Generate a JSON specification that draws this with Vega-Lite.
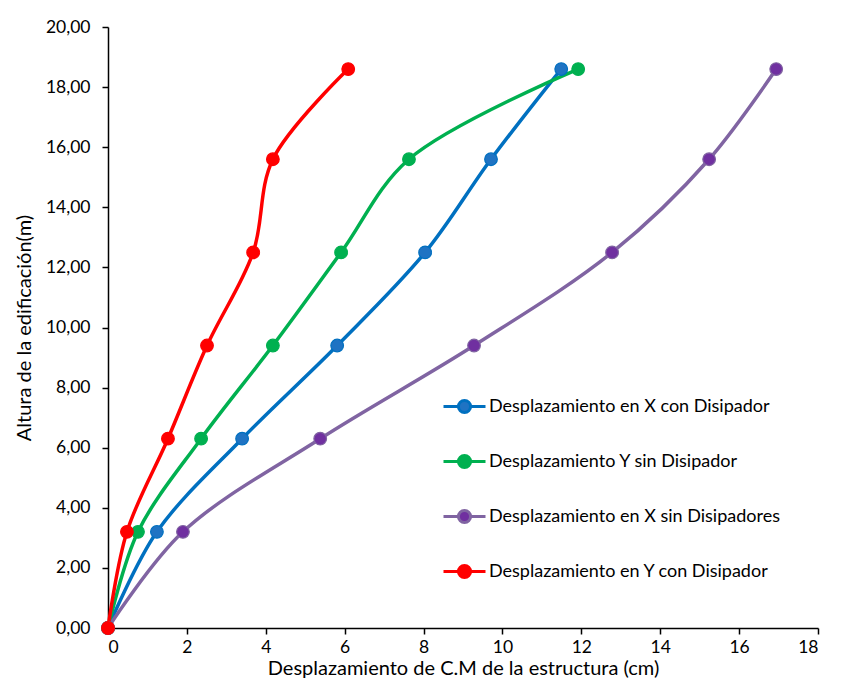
{
  "$schema": "https://vega.github.io/schema/vega-lite/v6.json",
  "width": 710,
  "height": 601,
  "autosize": {"type": "none"},
  "padding": {"left": 108, "top": 27, "right": 28, "bottom": 56},
  "background": "white",
  "config": {
    "font": "Lato",
    "view": {"stroke": null},
    "axis": {"grid": false, "domainColor": "black", "tickColor": "black", "domainWidth": 1.5, "tickWidth": 1.5, "labelColor": "black", "titleColor": "black", "labelFont": "Lato", "titleFont": "Lato", "titleFontWeight": "normal", "labelFontSize": 17.5, "titleFontSize": 20, "tickSize": 6}
  },
  "data": {
    "values": [
      {"serie": "Desplazamiento en X con Disipador", "d": 0, "h": 0},
      {"serie": "Desplazamiento en X con Disipador", "d": 1.24, "h": 3.2},
      {"serie": "Desplazamiento en X con Disipador", "d": 3.40, "h": 6.3},
      {"serie": "Desplazamiento en X con Disipador", "d": 5.81, "h": 9.4},
      {"serie": "Desplazamiento en X con Disipador", "d": 8.04, "h": 12.5},
      {"serie": "Desplazamiento en X con Disipador", "d": 9.71, "h": 15.6},
      {"serie": "Desplazamiento en X con Disipador", "d": 11.49, "h": 18.6},
      {"serie": "Desplazamiento Y sin Disipador", "d": 0, "h": 0},
      {"serie": "Desplazamiento Y sin Disipador", "d": 0.76, "h": 3.2},
      {"serie": "Desplazamiento Y sin Disipador", "d": 2.36, "h": 6.3},
      {"serie": "Desplazamiento Y sin Disipador", "d": 4.18, "h": 9.4},
      {"serie": "Desplazamiento Y sin Disipador", "d": 5.91, "h": 12.5},
      {"serie": "Desplazamiento Y sin Disipador", "d": 7.63, "h": 15.6},
      {"serie": "Desplazamiento Y sin Disipador", "d": 11.92, "h": 18.6},
      {"serie": "Desplazamiento en X sin Disipadores", "d": 0, "h": 0},
      {"serie": "Desplazamiento en X sin Disipadores", "d": 1.90, "h": 3.2},
      {"serie": "Desplazamiento en X sin Disipadores", "d": 5.38, "h": 6.3},
      {"serie": "Desplazamiento en X sin Disipadores", "d": 9.28, "h": 9.4},
      {"serie": "Desplazamiento en X sin Disipadores", "d": 12.78, "h": 12.5},
      {"serie": "Desplazamiento en X sin Disipadores", "d": 15.24, "h": 15.6},
      {"serie": "Desplazamiento en X sin Disipadores", "d": 16.94, "h": 18.6},
      {"serie": "Desplazamiento en Y con Disipador", "d": 0, "h": 0},
      {"serie": "Desplazamiento en Y con Disipador", "d": 0.48, "h": 3.2},
      {"serie": "Desplazamiento en Y con Disipador", "d": 1.52, "h": 6.3},
      {"serie": "Desplazamiento en Y con Disipador", "d": 2.51, "h": 9.4},
      {"serie": "Desplazamiento en Y con Disipador", "d": 3.68, "h": 12.5},
      {"serie": "Desplazamiento en Y con Disipador", "d": 4.18, "h": 15.6},
      {"serie": "Desplazamiento en Y con Disipador", "d": 6.09, "h": 18.6}
    ]
  },
  "encoding": {
    "x": {"field": "d", "type": "quantitative", "scale": {"domain": [0, 18], "nice": false, "zero": true},
      "axis": {"values": [0, 2, 4, 6, 8, 10, 12, 14, 16, 18], "title": "Desplazamiento de C.M de la estructura (cm)", "labelPadding": 4, "titlePadding": 3}},
    "y": {"field": "h", "type": "quantitative", "scale": {"domain": [0, 20], "nice": false},
      "axis": {"values": [0, 2, 4, 6, 8, 10, 12, 14, 16, 18, 20], "labelExpr": "replace(format(datum.value, '.2f'), '.', ',')", "title": "Altura de la edificación(m)", "labelPadding": 12, "titlePadding": 11}}
  },
  "layer": [
    {
      "mark": {"type": "line", "interpolate": "catmull-rom", "strokeWidth": 3.5},
      "encoding": {
        "order": {"field": "h", "type": "quantitative"},
        "stroke": {"field": "serie", "type": "nominal",
          "scale": {"domain": ["Desplazamiento en X con Disipador", "Desplazamiento Y sin Disipador", "Desplazamiento en X sin Disipadores", "Desplazamiento en Y con Disipador"],
                    "range": ["#0070c0", "#00b050", "#8064a2", "#ff0000"]},
          "legend": {"title": null, "orient": "none", "legendX": 334, "legendY": 357, "labelFont": "Lato", "labelFontSize": 18, "labelLimit": 0, "labelColor": "black", "rowPadding": 20, "symbolSize": 1764, "symbolStrokeWidth": 3,
            "symbolType": "M-1,0H-0.29A0.29,0.29 0 1,1 0.29,0H1M0.29,0A0.29,0.29 0 1,1 -0.29,0", "labelOffset": 2}}
      }
    },
    {
      "mark": {"type": "point", "filled": true, "size": 160, "opacity": 1, "strokeWidth": 1.2},
      "encoding": {
        "fill": {"field": "serie", "type": "nominal",
          "scale": {"domain": ["Desplazamiento en X con Disipador", "Desplazamiento Y sin Disipador", "Desplazamiento en X sin Disipadores", "Desplazamiento en Y con Disipador"],
                    "range": ["#1f73c3", "#00b050", "#7030a0", "#ff0000"]},
          "legend": null},
        "stroke": {"field": "serie", "type": "nominal",
          "scale": {"domain": ["Desplazamiento en X con Disipador", "Desplazamiento Y sin Disipador", "Desplazamiento en X sin Disipadores", "Desplazamiento en Y con Disipador"],
                    "range": ["#0070c0", "#00b050", "#8064a2", "#ff0000"]}}
      }
    }
  ]
}
